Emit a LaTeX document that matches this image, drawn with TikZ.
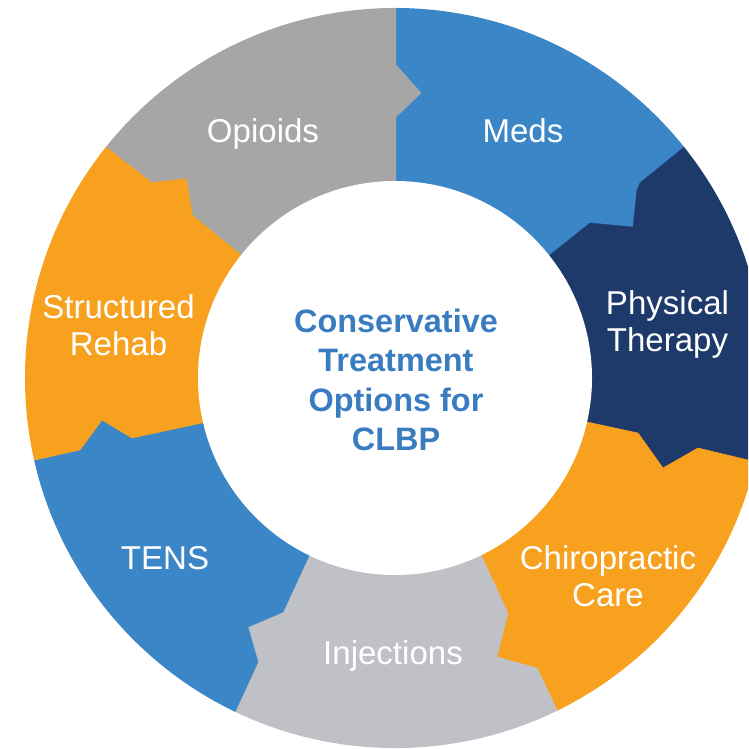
\documentclass[tikz,border=0pt]{standalone}
\usepackage{fontspec}
\setmainfont{Liberation Sans}
\definecolor{medsblue}{HTML}{3B86C7}
\definecolor{ptnavy}{HTML}{1D3A6B}
\definecolor{ringorange}{HTML}{F7A11E}
\definecolor{opigray}{HTML}{A6A6A6}
\definecolor{injgray}{HTML}{C0C1C6}
\definecolor{titleblue}{HTML}{3A7CC0}
\begin{document}
\begin{tikzpicture}[x=0.03cm,y=-0.03cm,
  seg/.style={fill=#1, draw=#1, line width=0.4pt, line join=round},
  lbl/.style={text=white, font=\fontsize{28.2}{31.6}\selectfont, inner sep=0pt, align=center},
  ttl/.style={text=titleblue, font=\bfseries\fontsize{27.7}{33.7}\selectfont, inner sep=0pt, align=center}]
\useasboundingbox (0,0) rectangle (748,749);
\clip (0,0) rectangle (748,749);
\coordinate (c) at (395,378);
% ring segments with interlocking teeth, clipped to the outer circle
\begin{scope}
  \clip (c) circle[radius=11.1cm];
  % Meds
  \path[seg=medsblue] (c) -- (396,183) -- (396,117) -- (421,93) -- (396,65) -- (396,8) -- (396,-170)
    -- (825,35) -- (683,148) -- (640,183) -- (637,190) -- (633,227) -- (590,223) -- (550,255) -- cycle;
  % Physical Therapy
  \path[seg=ptnavy] (c) -- (550,255) -- (590,223) -- (633,227) -- (637,190) -- (640,183) -- (683,148) -- (825,35)
    -- (931,502) -- (748,460) -- (698,448) -- (663,468) -- (638,433) -- (587,422) -- cycle;
  % Chiropractic Care
  \path[seg=ringorange] (c) -- (587,422) -- (638,433) -- (663,468) -- (698,448) -- (748,460) -- (931,502)
    -- (636,872) -- (557,710) -- (537,668) -- (497,657) -- (508,613) -- (482,557) -- cycle;
  % Injections
  \path[seg=injgray] (c) -- (482,557) -- (508,613) -- (497,657) -- (537,668) -- (557,710) -- (636,872)
    -- (157,874) -- (235,712) -- (258,662) -- (248,627) -- (283,612) -- (308,558) -- cycle;
  % TENS
  \path[seg=medsblue] (c) -- (308,558) -- (283,612) -- (248,627) -- (258,662) -- (235,712) -- (157,874)
    -- (-141,500) -- (35,460) -- (80,450) -- (102,420) -- (132,438) -- (202,423) -- cycle;
  % Structured Rehab
  \path[seg=ringorange] (c) -- (202,423) -- (132,438) -- (102,420) -- (80,450) -- (35,460) -- (-141,500)
    -- (-34,34) -- (107,147) -- (152,182) -- (187,178) -- (193,215) -- (242,255) -- cycle;
  % Opioids
  \path[seg=opigray] (c) -- (242,255) -- (193,215) -- (187,178) -- (152,182) -- (107,147) -- (-34,34)
    -- (396,-170) -- (396,8) -- (396,65) -- (421,93) -- (396,117) -- (396,183) -- cycle;
\end{scope}
% central hub
\fill[white] (c) circle[radius=5.91cm];
% labels
\node[lbl, anchor=base] (meds) at (523,142) {Meds};
\node[lbl, anchor=base] (opioids) at (263,142) {Opioids};
\node[lbl, anchor=base] (tens) at (165,569) {TENS};
\node[lbl, anchor=base] (injections) at (393,664) {Injections};
\node[lbl, anchor=north] (pt) at (667.5,290.5) {Physical\\Therapy};
\node[lbl, anchor=north] (rehab) at (118.5,294.5) {Structured\\Rehab};
\node[lbl, anchor=north] (chiro) at (608,545) {Chiropractic\\Care};
\node[ttl, anchor=north] (title) at (396,308.5) {Conservative\\Treatment\\Options for\\CLBP};
\end{tikzpicture}
\end{document}
